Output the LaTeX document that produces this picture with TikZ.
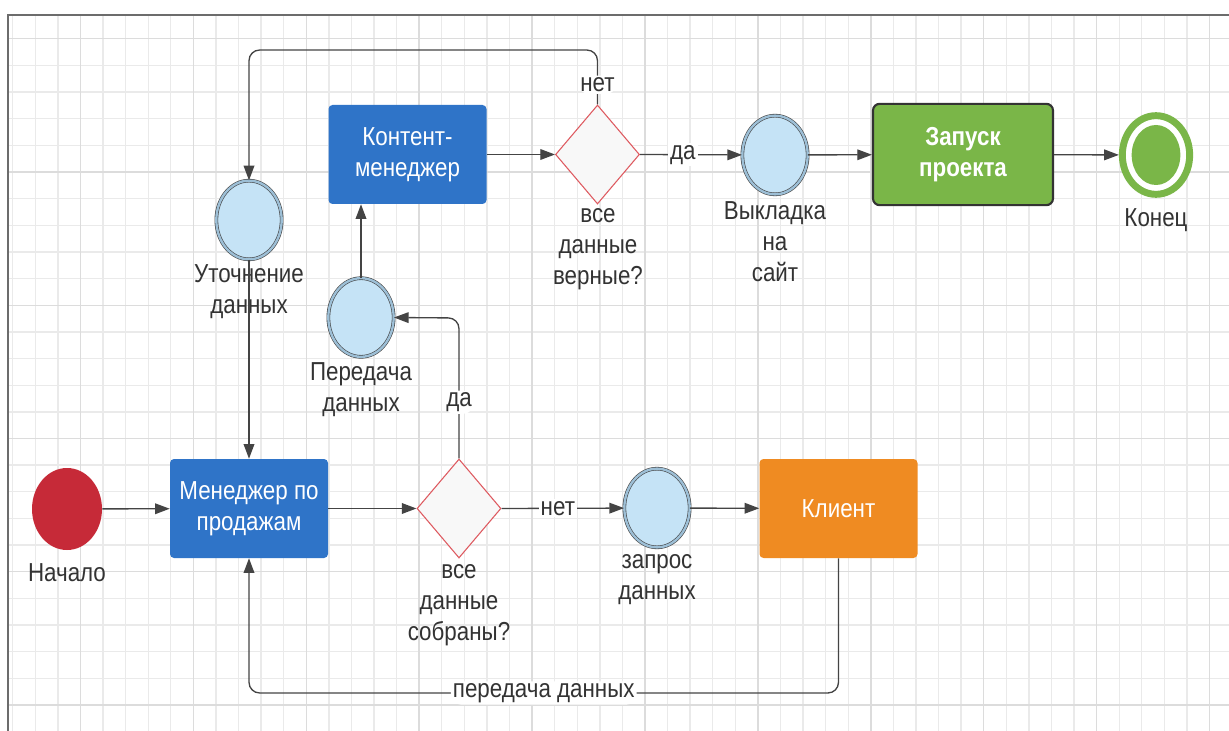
\documentclass[tikz,border=0pt]{standalone}
\usepackage{fontspec}
\setmainfont{Liberation Sans}[FakeStretch=0.86]
\usetikzlibrary{shapes.geometric,arrows.meta}
\definecolor{boxblue}{HTML}{2F74C8}
\definecolor{boxorange}{HTML}{EF8B22}
\definecolor{boxgreen}{HTML}{7AB648}
\definecolor{startred}{HTML}{C62A38}
\definecolor{evtfill}{HTML}{C5E3F6}
\definecolor{evtring}{HTML}{9DBFD6}
\definecolor{diaborder}{HTML}{DE5A60}
\definecolor{diafill}{HTML}{F8F8F8}
\definecolor{txt}{HTML}{333333}
\definecolor{lin}{HTML}{444444}
\definecolor{gridmin}{HTML}{EAEAEA}
\definecolor{gridmaj}{HTML}{DCDCDC}
\newcommand\lblfont{\fontsize{19.5}{23.3}\selectfont}
\begin{document}
\begin{tikzpicture}[x=0.75pt,y=-0.75pt,
  every node/.style={font=\lblfont, text=txt, inner sep=0pt, align=center},
  taskbox/.style={rectangle, rounded corners=3pt, fill=boxblue, text=white, minimum width=118.5pt, minimum height=74.25pt},
  evt/.style={ellipse, draw=lin, line width=0.45pt, double=evtring, double distance=1.8pt, fill=evtfill, minimum width=49pt, minimum height=59pt},
  gate/.style={diamond, draw=diaborder, line width=0.8pt, fill=diafill, minimum width=63pt, minimum height=74.25pt},
  conn/.style={draw=lin, line width=1pt, -{Triangle[length=11pt,width=8pt]}},
  flowlbl/.style={fill=white, inner sep=1.5pt},
  gridminor/.style={draw=gridmin, line width=1pt},
  gridmajor/.style={draw=gridmaj, line width=1.1pt}]
\useasboundingbox (0,0) rectangle (1229,731);
\fill[white] (0,0) rectangle (1229,731);
% grid
\begin{scope}
\clip (8,15) rectangle (1229,731);
\foreach \i in {-4,...,50} \draw[gridminor] ({80.5+22.58*\i},15) -- ++(0,716);
\foreach \j in {-6,...,22} \draw[gridminor] (8,{172+26.65*\j}) -- ++(1221,0);
\foreach \i in {-1,...,10} \draw[gridmajor] ({80.5+112.9*\i},15) -- ++(0,716);
\foreach \j in {-1,...,4} \draw[gridmajor] (8,{172+133.25*\j}) -- ++(1221,0);
\end{scope}
\draw[draw=gray!85!black, line width=1.2pt] (8,731) -- (8,15) -- (1229,15);

% nodes
\node[ellipse, fill=startred, minimum width=52.5pt, minimum height=61.5pt] (start) at (67,509) {};
\node (startl) at (67,573) {Начало};
\node[taskbox] (mgr) at (249,508.5) {Менеджер по\\продажам};
\node[gate] (d1) at (459,508.5) {};
\node (d1l) at (459,605) {все\\данные\\собраны?};
\node[evt] (q) at (657,508) {};
\node (ql) at (657,580) {запрос\\данных};
\node[taskbox, fill=boxorange] (client) at (838.5,508.5) {Клиент};
\node[evt] (ut) at (249,220) {};
\node (utl) at (249,291.5) {Уточнение\\данных};
\node[evt] (pp) at (361,317.5) {};
\node (ppl) at (361,390) {Передача\\данных};
\node[taskbox] (km) at (407.5,154.5) {Контент-\\менеджер};
\node[gate] (d2) at (597.5,154.5) {};
\node (d2l) at (598,249) {все\\данные\\верные?};
\node[evt] (vk) at (775,155) {};
\node (vkl) at (775,242) {Выкладка\\на\\сайт};
\node[rectangle, rounded corners=5pt, draw=txt, line width=1.6pt, fill=boxgreen, text=white, font=\lblfont\bfseries, minimum width=135pt, minimum height=76pt] (launch) at (963,154.5) {Запуск\\проекта};
\node[ellipse, draw=boxgreen, line width=5.2pt, fill=white, minimum width=50.5pt, minimum height=59pt] (end) at (1156,155) {};
\node[ellipse, fill=boxgreen, minimum width=36.5pt, minimum height=45pt] (endin) at (end.center) {};
\node (endl) at (1156,220) {Конец};

\coordinate (bot) at (0,693);
\coordinate (top) at (0,50);
\coordinate (mid) at (0,318);

% connectors
\draw[conn] (start) -- (mgr);
\draw[conn] (mgr) -- (d1);
\draw[conn] (d1.east) -- node[flowlbl, pos=0.46] (nl1) {нет} (q);
\draw[conn] (q) -- (client);
\draw[conn, rounded corners=8pt] (client.south) -- (client.south |- bot) -- node[flowlbl] (pl) {передача данных} (mgr.south |- bot) -- (mgr.south);
\draw[conn, rounded corners=8pt] (d1.north) -- node[flowlbl, pos=0.4] (yl1) {да} (d1.north |- mid) -- (pp.east);
\draw[conn] (pp.north) -- (pp.north |- km.south);
\draw[conn] (km) -- (d2);
\draw[conn] (d2.east) -- node[flowlbl, pos=0.42] (yl2) {да} (vk);
\draw[conn] (vk) -- (launch);
\draw[conn] (launch) -- (end);
\draw[conn, rounded corners=8pt] (d2.north) -- node[flowlbl, pos=0.36] (nl2) {нет} (d2.north |- top) -- (ut.north |- top) -- (ut.north);
\draw[conn] (ut) -- (mgr);
\end{tikzpicture}
\end{document}
